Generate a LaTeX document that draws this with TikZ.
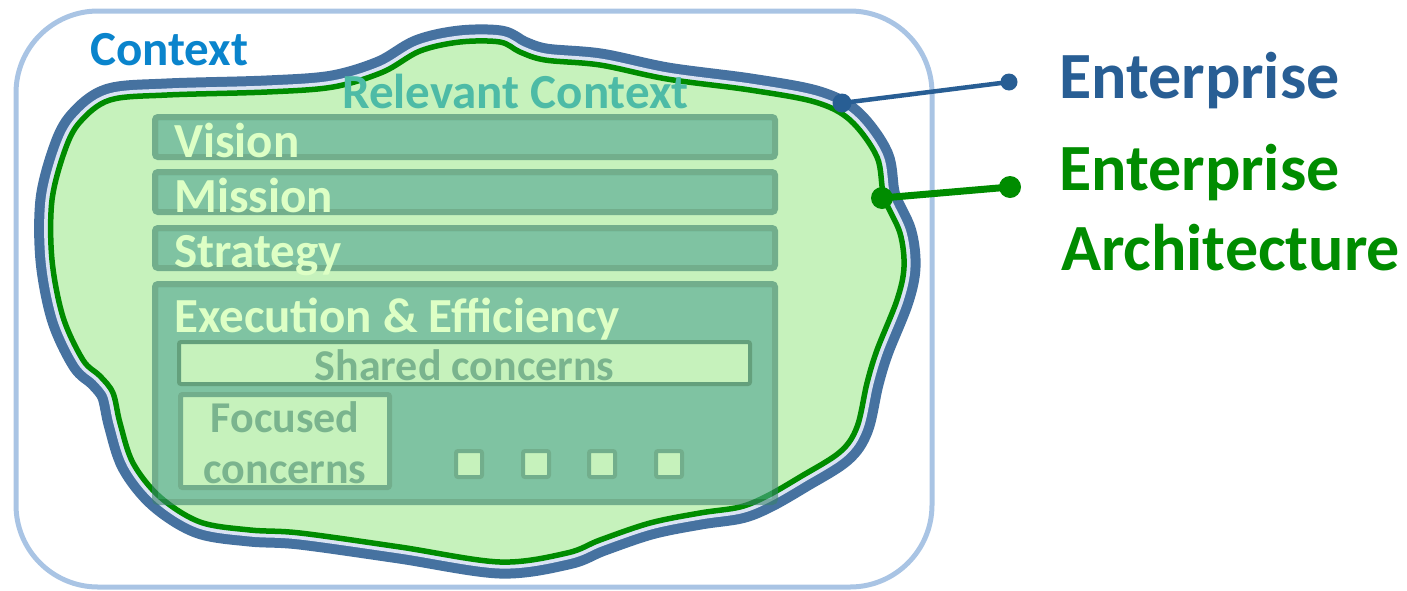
\documentclass[tikz,border=0pt]{standalone}
\usepackage{fontspec}
\setmainfont{Carlito}
\definecolor{ctxrect}{RGB}{169,196,228}
\definecolor{entblue}{RGB}{70,114,160}
\definecolor{lav}{RGB}{218,227,243}
\definecolor{eagreen}{RGB}{0,140,0}
\definecolor{blobfill}{RGB}{198,242,188}
\definecolor{boxfillT}{RGB}{81,165,145}
\definecolor{boxdrawT}{RGB}{58,129,108}
\definecolor{innerdraw}{RGB}{114,174,140}
\definecolor{shareddraw}{RGB}{100,160,124}
\definecolor{lightT}{RGB}{221,255,197}
\definecolor{tealT}{RGB}{77,187,166}
\definecolor{concernT}{RGB}{122,180,142}
\definecolor{ctxT}{RGB}{10,132,204}
\definecolor{entT}{RGB}{40,94,148}
\newcommand{\myfs}[1]{\fontsize{#1}{#1}\selectfont\bfseries}
\newcommand{\blobpath}{plot[smooth cycle, tension=0.55] coordinates {
 (110,100) (167,95) (267,92) (333,87) (383,72) (420,51) (460,42) (500,42)
 (520,52) (545,60) (600,65) (667,79) (750,90) (815,102) (850,120) (877,157)
 (884,197) (900,233) (904,267) (897,300) (877,350) (867,383) (857,427)
 (840,452) (800,477) (767,496) (740,507) (700,513) (650,523) (600,540)
 (567,553) (500,562) (400,547) (300,533) (250,530) (200,522) (160,497)
 (133,463) (120,423) (113,393) (100,376) (83,360) (63,317) (52,260)
 (52,200) (65,150) (80,122)}}
\newcommand{\tbox}[4]{%
  \fill[boxfillT, fill opacity=0.6] (#1+6,#2+6) rectangle (#3-6,#4-6);
  \draw[boxdrawT, draw opacity=0.6, line width=6pt, rounded corners=3pt] (#1+3,#2+3) rectangle (#3-3,#4-3);}
\newcommand{\sq}[1]{%
  \draw[innerdraw, fill=blobfill, line width=4pt, rounded corners=2pt] (#1+2,451) rectangle (#1+28,477);}
\begin{document}
\begin{tikzpicture}[x=1pt,y=-1pt,
  txt/.style={inner sep=0pt, anchor=base west},
  ctxtxt/.style={txt, text=ctxT, font=\myfs{49}},
  reltxt/.style={txt, text=tealT, font=\myfs{49}},
  boxtxt/.style={txt, text=lightT, font=\myfs{49}},
  contxt/.style={inner sep=0pt, anchor=base, text=concernT, font=\myfs{44}},
  enttxt/.style={txt, text=entT, font=\myfs{66}},
  eatxt/.style={txt, text=eagreen, font=\myfs{66}},
  entline/.style={entT, line width=4.5pt},
  ealine/.style={eagreen, line width=7pt}]
\useasboundingbox (0,0) rectangle (1407,590);
% context frame
\draw[ctxrect, line width=5pt, rounded corners=82pt] (16,11) rectangle (932,587);
% enterprise / EA blob
\draw[entblue, line width=33pt, line join=round] \blobpath;
\draw[lav, line width=13pt, line join=round] \blobpath;
\fill[blobfill] \blobpath;
\draw[eagreen, line width=5.5pt, line join=round] \blobpath;
% boxes
\tbox{152}{114}{778}{160}
\tbox{152}{169}{778}{215}
\tbox{152}{225}{778}{271}
\tbox{152}{281}{778}{505}
\draw[shareddraw, fill=blobfill, line width=4pt, rounded corners=2pt] (179,342) rectangle (750,384);
\draw[innerdraw, fill=blobfill, line width=5pt, rounded corners=2pt] (180.5,394.5) rectangle (389.5,487.5);
\sq{454}\sq{521}\sq{587}\sq{654}
% texts
\node[ctxtxt] (context) at (90,65) {Context};
\node[reltxt] (relevant) at (342,108) {Relevant Context};
\node[boxtxt] (vision) at (174,157) {Vision};
\node[boxtxt] (mission) at (174,212) {Mission};
\node[boxtxt] (strategy) at (174,267) {Strategy};
\node[boxtxt] (execution) at (174,332) {Execution \& Efficiency};
\node[contxt] (shared) at (464.5,380) {Shared concerns};
\node[contxt] (focused1) at (285,432) {Focused};
\node[contxt] (focused2) at (285,483) {concerns};
\node[enttxt] (ent) at (1059,98) {Enterprise};
\node[eatxt] (ea1) at (1059,190) {Enterprise};
\node[eatxt] (ea2) at (1061,270) {Architecture};
% connectors
\coordinate (entpt) at (842,103);
\coordinate (entend) at (1009,82);
\coordinate (eapt) at (882,198);
\coordinate (eaend) at (1010,187);
\draw[entline] (entpt) -- (entend);
\fill[entT] (entpt) circle (9.5pt);
\fill[entT] (entend) circle (8.5pt);
\draw[ealine] (eapt) -- (eaend);
\fill[eagreen] (eapt) circle (11pt);
\fill[eagreen] (eaend) circle (11pt);
\end{tikzpicture}
\end{document}
